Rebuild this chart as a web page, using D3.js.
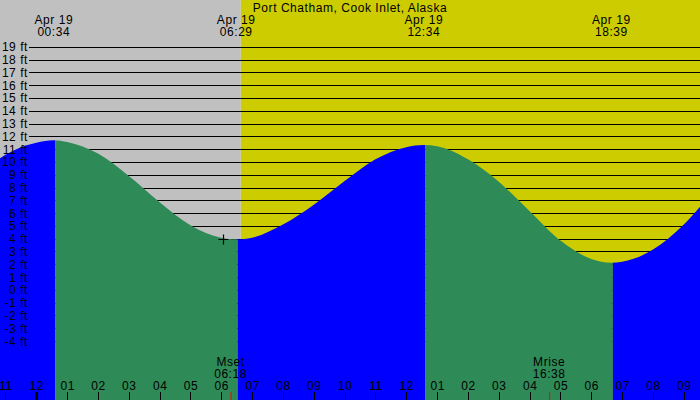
<!DOCTYPE html>
<html>
<head>
<meta charset="utf-8">
<script src="https://cdn.jsdelivr.net/npm/d3@7"></script>
<style>
  html, body { margin: 0; padding: 0; background: #fff; }
  svg { display: block; }
  text { font-family: "Liberation Sans", Arial, sans-serif; font-size: 12px; fill: #000; letter-spacing: 0.55px; }
</style>
</head>
<body>
<div id="chart"></div>
<script>
// ---------- data ----------
const title = "Port Chatham, Cook Inlet, Alaska";
const dateLabel = "Apr 19";
// tide extremes (high / low) times
const extremeTimes = ["00:34", "06:29", "12:34", "18:39"];
const extremeKinds = ["high", "low", "high", "low"];
// tide curve readings (hours after midnight, feet)
const tideHours = [-1.2, -1, -0.5, 0, 0.567, 1, 2, 3, 4, 5, 6, 6.483, 7, 8, 9, 10, 11, 12, 12.567, 13, 14, 15, 16, 17, 18, 18.65, 19, 20, 21, 21.6];
const tideFeet  = [10.25, 10.55, 11.15, 11.5, 11.7, 11.55, 10.65, 8.9, 6.85, 5.05, 4.08, 3.95, 4.08, 5.1, 6.65, 8.5, 10.2, 11.15, 11.32, 11.22, 10.2, 8.45, 6.15, 3.85, 2.42, 2.13, 2.2, 3.15, 5.1, 6.7];
// sun
const sunriseTime = "06:38";
// moon events
const moonLabels = ["Mset", "Mrise"];
const moonTimes = ["06:18", "16:38"];
// marker "+"
const markerHour = [6.06];
const markerFeet = [4.0];
// axes
const feetTicks = d3.range(-4, 20);
const hourTicks = d3.range(-1, 22);
const hourTickLabels = ["11","12","01","02","03","04","05","06","07","08","09","10","11","12","01","02","03","04","05","06","07","08","09"];

// ---------- layout ----------
const W = 700, H = 400;
const toH = s => { const [h, m] = s.split(":").map(Number); return h + m / 60; };

const x = d3.scaleLinear().domain([0, 12]).range([36.3, 406.3]);
const y = d3.scaleLinear().domain([0, 19]).range([289.9, 46.7]);

const svg = d3.select("#chart").append("svg").attr("width", W).attr("height", H);

// background night / day
const sunX = x(toH(sunriseTime));
svg.append("rect").attr("x", 0).attr("y", 0).attr("width", sunX).attr("height", H).attr("fill", "#c0c0c0");
svg.append("rect").attr("x", sunX).attr("y", 0).attr("width", W - sunX).attr("height", H).attr("fill", "#cccc00");

// grid lines
svg.append("g").selectAll("line").data(feetTicks).join("line")
  .attr("x1", 29).attr("x2", W)
  .attr("y1", d => Math.round(y(d)) + 0.5).attr("y2", d => Math.round(y(d)) + 0.5)
  .attr("stroke", "#000").attr("stroke-width", 1);

// water area
const pts = tideHours.map((h, i) => [h, tideFeet[i]]);
const area = d3.area().x(d => x(d[0])).y0(H).y1(d => y(d[1])).curve(d3.curveMonotoneX);
svg.append("clipPath").attr("id", "water").append("path").attr("d", area(pts));

const bounds = [x(-2)].concat(extremeTimes.map(t => x(toH(t)) + 1.5)).concat([W + 10]);
const bands = [];
for (let i = 0; i < bounds.length - 1; i++) {
  const kind = i < extremeKinds.length ? extremeKinds[i] : (extremeKinds[extremeKinds.length - 1] === "low" ? "high" : "low");
  bands.push({ x0: bounds[i], x1: bounds[i + 1], fill: kind === "high" ? "#0000ff" : "#2e8b57" });
}
svg.append("g").attr("clip-path", "url(#water)").selectAll("rect").data(bands).join("rect")
  .attr("x", d => d.x0).attr("y", 0).attr("width", d => d.x1 - d.x0).attr("height", H)
  .attr("fill", d => d.fill);

// y labels
svg.append("g").selectAll("text").data(feetTicks).join("text")
  .attr("x", 28).attr("y", d => y(d) + 4.5).attr("text-anchor", "end")
  .text(d => d + " ft");

// title
svg.append("text").attr("x", 350).attr("y", 12).attr("text-anchor", "middle").text(title);

// extreme labels
const ext = svg.append("g").selectAll("g").data(extremeTimes).join("g")
  .attr("transform", d => `translate(${x(toH(d))},0)`);
ext.append("text").attr("y", 24).attr("text-anchor", "middle").text(dateLabel);
ext.append("text").attr("y", 35.5).attr("text-anchor", "middle").text(d => d);

// marker
svg.append("g").selectAll("path").data(markerHour).join("path")
  .attr("d", (d, i) => { const cx = Math.round(x(d)) + 0.5, cy = Math.round(y(markerFeet[i])) + 0.5; return `M${cx-5},${cy}H${cx+5}M${cx},${cy-5}V${cy+5}`; })
  .attr("stroke", "#000").attr("stroke-width", 1.2);

// hour ticks
svg.append("g").selectAll("line").data(hourTicks).join("line")
  .attr("x1", d => Math.round(x(d)) + 0.5).attr("x2", d => Math.round(x(d)) + 0.5)
  .attr("y1", 392).attr("y2", H)
  .attr("stroke", "#000").attr("stroke-width", d => d === 0 ? 3 : 1);
svg.append("g").selectAll("text").data(hourTicks).join("text")
  .attr("x", d => x(d) + 0.5).attr("y", 389.5).attr("text-anchor", "middle")
  .text((d, i) => hourTickLabels[i]);

// moon events
const moon = svg.append("g").selectAll("g").data(moonTimes).join("g")
  .attr("transform", d => `translate(${x(toH(d))},0)`);
moon.append("text").attr("y", 366).attr("text-anchor", "middle").text((d, i) => moonLabels[i]);
moon.append("text").attr("y", 377.5).attr("text-anchor", "middle").text(d => d);
moon.append("line").attr("x1", 0.5).attr("x2", 0.5).attr("y1", 392).attr("y2", H)
  .attr("stroke", "#ff0000").attr("stroke-width", 1);
</script>
</body>
</html>
